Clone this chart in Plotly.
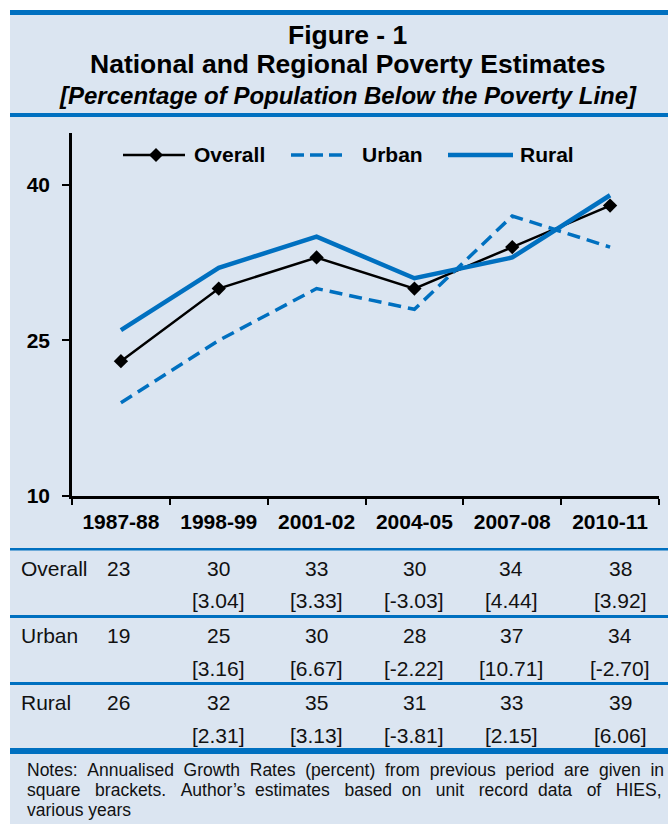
import plotly.graph_objects as go

# ---------------- data ----------------
periods = ["1987-88", "1998-99", "2001-02", "2004-05", "2007-08", "2010-11"]
overall = [23, 30, 33, 30, 34, 38]
urban = [19, 25, 30, 28, 37, 34]
rural = [26, 32, 35, 31, 33, 39]
overall_growth = ["", "[3.04]", "[3.33]", "[-3.03]", "[4.44]", "[3.92]"]
urban_growth = ["", "[3.16]", "[6.67]", "[-2.22]", "[10.71]", "[-2.70]"]
rural_growth = ["", "[2.31]", "[3.13]", "[-3.81]", "[2.15]", "[6.06]"]
y_ticks = [10, 25, 40]

title1 = "Figure - 1"
title2 = "National and Regional Poverty Estimates"
title3 = "[Percentage of Population Below the Poverty Line]"
notes = [
    "Notes: Annualised Growth Rates (percent) from previous period are given in",
    "square brackets. Author\u2019s estimates based on unit record data of HIES,",
    "various years",
]

# ---------------- layout constants ----------------
W, H = 668, 824
L, R, T, B = 72, 9, 133, 328
PW, PH = W - L - R, H - T - B
BG = "#DBE5F1"
BLUE = "#0070C0"
FONT = "Liberation Sans, Arial, sans-serif"
NB = "\u00a0"


def px(x):
    return (x - L) / PW


def py(y):
    return (H - B - y) / PH


def justify(line, extra):
    """widen the gaps of a line with non-breaking spaces (extra per gap)."""
    words = line.split(" ")
    out = words[0]
    for i, w in enumerate(words[1:]):
        out += " " + NB * extra[i % len(extra)] + w
    return out


fig = go.Figure()
fig.add_trace(go.Scatter(x=periods, y=overall, mode="lines+markers", name="Overall",
                         line=dict(color="black", width=2.5),
                         marker=dict(symbol="diamond", size=11, color="black"),
                         showlegend=False))
fig.add_trace(go.Scatter(x=periods, y=urban, mode="lines", name="Urban",
                         line=dict(color=BLUE, width=3.5, dash="13px,7px"),
                         showlegend=False))
fig.add_trace(go.Scatter(x=periods, y=rural, mode="lines", name="Rural",
                         line=dict(color=BLUE, width=4.5),
                         showlegend=False))

shapes = []
shapes.append(dict(type="rect", xref="paper", yref="paper", layer="below",
                   x0=px(10), x1=px(W), y0=py(10), y1=py(H),
                   fillcolor=BG, line=dict(width=0)))
for y0, y1 in [(10, 15), (113, 117), (548, 550.5), (615, 618), (682, 685), (748, 754)]:
    shapes.append(dict(type="rect", xref="paper", yref="paper", layer="above",
                       x0=px(10), x1=px(W), y0=py(y0), y1=py(y1),
                       fillcolor=BLUE, line=dict(width=0)))

# custom legend
LY = 155
shapes.append(dict(type="line", xref="paper", yref="paper", x0=px(123), x1=px(185),
                   y0=py(LY), y1=py(LY), line=dict(color="black", width=2.5)))
d = 7
shapes.append(dict(type="path", xref="paper", yref="paper",
                   path=f"M{px(156)},{py(LY-d)} L{px(156+d)},{py(LY)} L{px(156)},{py(LY+d)} L{px(156-d)},{py(LY)} Z",
                   fillcolor="black", line=dict(width=0)))
shapes.append(dict(type="line", xref="paper", yref="paper", x0=px(291), x1=px(347),
                   y0=py(LY), y1=py(LY), line=dict(color=BLUE, width=3.5, dash="13px,6px")))
shapes.append(dict(type="line", xref="paper", yref="paper", x0=px(448), x1=px(513),
                   y0=py(LY), y1=py(LY), line=dict(color=BLUE, width=4.5)))

ann = []


def text(x, y, s, size, anchor="center", bold=False, italic=False, color="black"):
    if italic:
        s = "<i>" + s + "</i>"
    ann.append(dict(xref="paper", yref="paper", x=px(x), y=py(y), text=s,
                    showarrow=False, xanchor=anchor, yanchor="middle",
                    font=dict(family=FONT, size=size, color=color,
                              weight="bold" if bold else "normal")))


text(347, 35, title1, 26.5, bold=True)
text(347, 64, title2, 26.5, bold=True)
text(348, 95, title3, 24, bold=True, italic=True)

text(192, LY, "Overall", 21, anchor="left", bold=True)
text(360, LY, "Urban", 21, anchor="left", bold=True)
text(518, LY, "Rural", 21, anchor="left", bold=True)

col_x = [118.5, 219, 316, 414, 511, 620]
rows = [("Overall", overall, overall_growth, 568.5, 600),
        ("Urban", urban, urban_growth, 635, 668),
        ("Rural", rural, rural_growth, 702, 735)]
for label, vals, growth, yv, yg in rows:
    text(19, yv, label, 21, anchor="left", color="#111111")
    for cx, v, g in zip(col_x, vals, growth):
        text(cx, yv, str(v), 21, color="#111111")
        if g:
            text(cx, yg, g, 21, color="#111111")

note_lines = [justify(notes[0], [1]),
              justify(notes[1], [2, 2, 1, 2, 1, 2, 2, 1, 2]),
              notes[2]]
for i, line in enumerate(note_lines):
    text(25, 770 + i * 20, line, 17.5, anchor="left", color="#111111")

fig.update_layout(
    width=W, height=H,
    margin=dict(l=L, r=R, t=T, b=B, autoexpand=False),
    paper_bgcolor="white", plot_bgcolor="rgba(0,0,0,0)",
    shapes=shapes, annotations=ann, showlegend=False,
    font=dict(family=FONT, color="black"),
    xaxis=dict(type="category", categoryorder="array", categoryarray=periods,
               range=[-0.5, 5.5], showline=True, linecolor="black", linewidth=2.5,
               ticks="outside", ticklen=6, tickwidth=2, tickcolor="black",
               tickson="boundaries", showgrid=False, zeroline=False,
               ticklabelstandoff=5,
               tickfont=dict(family=FONT, size=21, color="black", weight="bold")),
    yaxis=dict(range=[10, 45], tickvals=y_ticks, showline=True, linecolor="black",
               linewidth=2.5, ticks="outside", ticklen=7, tickwidth=2, tickcolor="black",
               showgrid=False, zeroline=False, ticklabelstandoff=8,
               tickfont=dict(family=FONT, size=21, color="black", weight="bold")),
)

fig.write_html("out.html", config={"displayModeBar": False},
               post_script="document.body.style.margin='0';")
